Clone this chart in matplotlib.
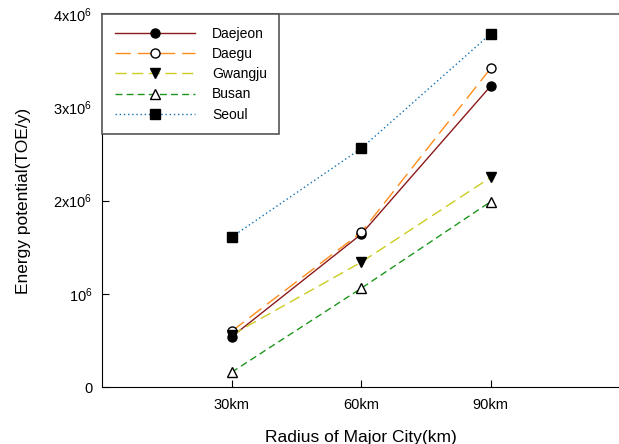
import matplotlib
matplotlib.use("Agg")
import matplotlib.pyplot as plt

plt.rcParams["font.family"] = ["Liberation Sans", "DejaVu Sans"]
plt.rcParams["mathtext.default"] = "regular"

radius = [30, 60, 90]
xlabels = ["30km", "60km", "90km"]
daejeon = [0.54e6, 1.64e6, 3.23e6]
daegu = [0.60e6, 1.66e6, 3.42e6]
gwangju = [0.56e6, 1.34e6, 2.25e6]
busan = [0.16e6, 1.06e6, 1.99e6]
seoul = [1.61e6, 2.56e6, 3.79e6]
yticks = [0, 1e6, 2e6, 3e6, 4e6]
yticklabels = ["0", r"$10^6$", r"$2x10^6$", r"$3x10^6$", r"$4x10^6$"]

fig = plt.figure(figsize=(6.19, 4.44), dpi=100)
ax = fig.add_axes([0.165, 0.128, 0.837, 0.840])

ax.plot(radius, daejeon, color="#8b1a1a", lw=1.0, marker="o", ms=6.5,
        mfc="black", mec="black", label="Daejeon")
ax.plot(radius, daegu, color="#ff8c1a", lw=1.0, dashes=(11, 5), marker="o", ms=6.5,
        mfc="white", mec="black", label="Daegu")
ax.plot(radius, gwangju, color="#cccc22", lw=1.0, dashes=(8, 4), marker="v", ms=7,
        mfc="black", mec="black", label="Gwangju")
ax.plot(radius, busan, color="#1e961e", lw=1.0, dashes=(5, 3), marker="^", ms=7,
        mfc="white", mec="black", label="Busan")
ax.plot(radius, seoul, color="#1070b0", lw=1.0, dashes=(1, 2), marker="s", ms=6.5,
        mfc="black", mec="black", label="Seoul")

ax.set_xlim(0, 120)
ax.set_ylim(0, 4e6)
ax.set_xticks(radius)
ax.set_xticklabels(xlabels)
ax.set_yticks(yticks)
ax.set_yticklabels(yticklabels)
ax.tick_params(direction="in", length=5, labelsize=10.5)
ax.tick_params(axis="x", pad=8)
ax.tick_params(axis="y", pad=7)
ax.spines["right"].set_visible(False)
ax.spines["top"].set_color("#777777")
ax.spines["top"].set_linewidth(1.5)
ax.set_xlabel("Radius of Major City(km)", fontsize=12.5, labelpad=13)
ax.set_ylabel("Energy potential(TOE/y)", fontsize=12.5, labelpad=16)

leg = ax.legend(loc="upper left", bbox_to_anchor=(0, 1), borderaxespad=0, fontsize=10,
                handlelength=5.8, handletextpad=1.2, borderpad=0.9, labelspacing=0.45,
                fancybox=False, shadow=False, framealpha=1)
leg.get_frame().set_edgecolor("#555555")
leg.get_frame().set_linewidth(1.2)

fig.savefig("out.png", dpi=100)
